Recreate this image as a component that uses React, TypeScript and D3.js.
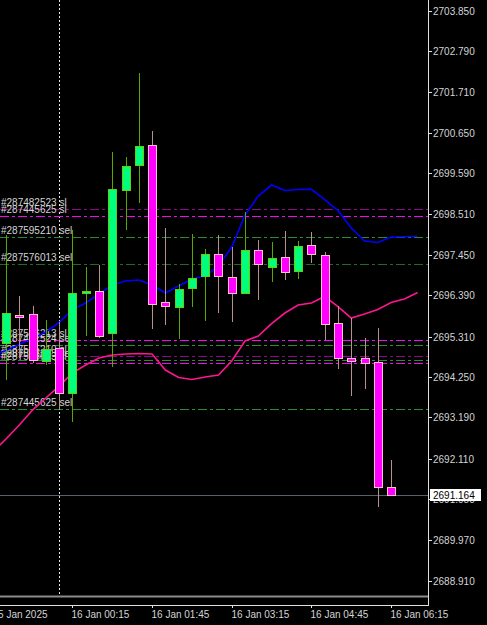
import React from "react";
import * as d3 from "d3";

const W = 487;
const H = 625;

// M15 candles, 15 Jan 22:45 .. 16 Jan 06:15
const opens = [2695.147, 2695.873, 2695.899, 2694.667, 2695.000, 2693.821, 2696.442, 2696.510, 2695.393, 2699.150, 2699.805, 2700.329, 2696.222, 2696.075, 2696.581, 2696.903, 2697.464, 2696.877, 2696.442, 2697.577, 2697.139, 2697.386, 2697.034, 2697.700, 2697.438, 2695.656, 2694.738, 2694.738, 2694.649, 2691.357];
const highs = [2697.970, 2696.371, 2696.117, 2695.742, 2695.690, 2698.101, 2697.123, 2697.184, 2700.138, 2700.007, 2702.224, 2700.696, 2698.146, 2696.686, 2697.989, 2697.603, 2697.970, 2697.656, 2698.581, 2697.839, 2697.787, 2698.075, 2697.813, 2698.057, 2697.517, 2696.117, 2695.787, 2695.278, 2695.525, 2692.072];
const lows = [2694.169, 2694.746, 2694.615, 2694.563, 2693.383, 2693.069, 2695.323, 2695.270, 2694.518, 2698.101, 2698.801, 2695.498, 2695.611, 2695.236, 2696.091, 2695.724, 2695.918, 2695.698, 2696.424, 2696.266, 2696.746, 2696.791, 2696.817, 2697.228, 2695.218, 2694.458, 2693.758, 2693.941, 2690.833, 2691.160];
const closes = [2695.934, 2695.821, 2694.694, 2694.982, 2693.821, 2696.442, 2696.510, 2695.323, 2699.184, 2699.779, 2700.295, 2696.169, 2696.109, 2696.547, 2696.851, 2697.464, 2696.895, 2696.458, 2697.577, 2697.202, 2697.359, 2697.008, 2697.682, 2697.480, 2695.645, 2694.738, 2694.675, 2694.607, 2691.357, 2691.164];

// shifted moving averages (33 points, from one bar before the first candle to 2 bars ahead)
const maStartBar = -1;
const maBlue = [2694.825, 2694.943, 2695.100, 2695.257, 2695.428, 2695.677, 2696.015, 2696.188, 2696.424, 2696.660, 2696.764, 2696.791, 2696.660, 2696.450, 2696.633, 2696.817, 2696.895, 2697.158, 2697.656, 2698.494, 2698.992, 2699.281, 2699.137, 2699.163, 2699.168, 2698.901, 2698.612, 2698.154, 2697.813, 2697.774, 2697.918, 2697.926, 2697.939];
const maPink = [2692.282, 2692.623, 2692.990, 2693.383, 2693.698, 2694.012, 2694.353, 2694.563, 2694.746, 2694.825, 2694.851, 2694.864, 2694.851, 2694.432, 2694.235, 2694.183, 2694.248, 2694.300, 2694.667, 2695.192, 2695.323, 2695.650, 2695.926, 2696.135, 2696.188, 2696.358, 2696.096, 2695.795, 2695.899, 2696.017, 2696.201, 2696.293, 2696.463];

// trade levels
const orderLevels = [2698.652, 2698.460, 2697.910, 2697.223, 2695.213, 2695.079, 2694.799, 2694.686, 2694.607, 2693.401];
const orderLabels = ["#287482523 sl", "#287445625 sl", "#287595210 sel", "#287576013 sel", "#287556213 sl", "#287482524 sel", "#287595210 sl", "#287556213 sel", "#287576013 sl", "#287445625 sel"];
const orderKinds = ["slDark", "sl", "open", "openDark", "sl", "open", "slDark", "open", "sl", "open"];

const priceTicks = [2703.85, 2702.79, 2701.71, 2700.65, 2699.59, 2698.51, 2697.45, 2696.39, 2695.31, 2694.25, 2693.19, 2692.11, 2691.05, 2689.97, 2688.91];
const timeTickBars = [-1, 5, 11, 17, 23, 29];
const timeTickLabels = ["15 Jan 2025", "16 Jan 00:15", "16 Jan 01:45", "16 Jan 03:15", "16 Jan 04:45", "16 Jan 06:15"];
const separatorBar = 4;
const bidPrice = 2691.164;

const kindColor: Record<string, string> = {
  slDark: "#8a0a8a",
  sl: "#ff00ff",
  open: "#2a8c2a",
  openDark: "#1f6e1f",
};

export default function App() {
  const plotRight = 428;
  const y = d3.scaleLinear().domain([2688.91, 2703.85]).range([580.7, 10.7]);
  const x = d3.scaleLinear().domain([0, 29]).range([6, 391.1]);
  const font = "'Liberation Sans', Arial, sans-serif";
  const txt = "#d4d4d4";

  const lineGen = d3
    .line<number>()
    .x((_, i) => x(i + maStartBar))
    .y((d) => y(d));

  return (
    <svg
      width={W}
      height={H}
      style={{ position: "fixed", left: 0, top: 0, display: "block" }}
      fontFamily={font}
      fontSize={10}
    >
      <rect x={0} y={0} width={W} height={H} fill="#000" />
      <defs>
        <clipPath id="plot">
          <rect x={0} y={0} width={plotRight} height={595} />
        </clipPath>
      </defs>
      <g clipPath="url(#plot)">
        {/* period separator */}
        <line
          x1={Math.round(x(separatorBar)) + 0.5}
          x2={Math.round(x(separatorBar)) + 0.5}
          y1={0}
          y2={595}
          stroke="#e8e8e8"
          strokeDasharray="2,2"
        />
        {/* bid line */}
        <line
          x1={0}
          x2={plotRight}
          y1={Math.round(y(bidPrice)) + 0.5}
          y2={Math.round(y(bidPrice)) + 0.5}
          stroke="#56606a"
        />
        {/* order lines */}
        {orderLevels.map((p, i) => (
          <line
            key={"ol" + i}
            x1={0}
            x2={plotRight}
            y1={Math.round(y(p)) + 0.5}
            y2={Math.round(y(p)) + 0.5}
            stroke={kindColor[orderKinds[i]]}
            strokeDasharray="9,3,3,3"
          />
        ))}
        {orderLabels.map((t, i) => (
          <text key={"lb" + i} x={1} y={Math.round(y(orderLevels[i])) - 3.5} fill={txt}>
            {t}
          </text>
        ))}
        {/* moving averages */}
        <path d={lineGen(maPink) || ""} fill="none" stroke="#ff1493" strokeWidth={1.6} />
        <path d={lineGen(maBlue) || ""} fill="none" stroke="#0000ff" strokeWidth={1.6} />
        {/* candles */}
        {opens.map((o, i) => {
          const c = closes[i];
          const bull = c >= o;
          const xc = Math.round(x(i));
          const top = Math.round(y(Math.max(o, c)));
          const bot = Math.round(y(Math.min(o, c)));
          const hgt = Math.max(1, bot - top);
          return (
            <g key={"c" + i}>
              <line
                x1={xc + 0.5}
                x2={xc + 0.5}
                y1={Math.round(y(highs[i]))}
                y2={Math.round(y(lows[i]))}
                stroke={bull ? "#58a800" : "#bc8f8f"}
              />
              <rect
                x={xc - 4 + 0.5}
                y={top + 0.5}
                width={8}
                height={hgt}
                fill={bull ? "#00ff7f" : "#ff00ff"}
                stroke={bull ? "#66d000" : "#ffc0cb"}
              />
            </g>
          );
        })}
      </g>

      {/* frame */}
      <line x1={plotRight + 0.5} x2={plotRight + 0.5} y1={0} y2={605} stroke="#e0e0e0" />
      <line x1={0} x2={plotRight} y1={596.5} y2={596.5} stroke="#8c8c8c" strokeWidth={2} />
      <line x1={0} x2={plotRight + 1} y1={605.5} y2={605.5} stroke="#e0e0e0" />

      {/* price axis */}
      {priceTicks.map((p, i) => {
        const yy = Math.round(y(p)) + 0.5;
        return (
          <g key={"pt" + i}>
            <line x1={plotRight} x2={plotRight + 4} y1={yy} y2={yy} stroke="#e0e0e0" />
            <text x={433} y={yy + 3.6} fill={txt}>
              {p.toFixed(3)}
            </text>
          </g>
        );
      })}
      {/* bid label */}
      <rect x={430} y={Math.round(y(bidPrice)) - 6} width={51} height={12} fill="#ffffff" />
      <text x={433} y={Math.round(y(bidPrice)) + 4} fill="#000">
        {bidPrice.toFixed(3)}
      </text>

      {/* time axis */}
      {timeTickBars.map((b, i) => {
        const xx = Math.round(x(b)) + 0.5;
        return (
          <g key={"tt" + i}>
            <line x1={xx} x2={xx} y1={605} y2={608} stroke="#e0e0e0" />
            <text x={xx - 1} y={617.6} fill={txt}>
              {timeTickLabels[i]}
            </text>
          </g>
        );
      })}
    </svg>
  );
}
